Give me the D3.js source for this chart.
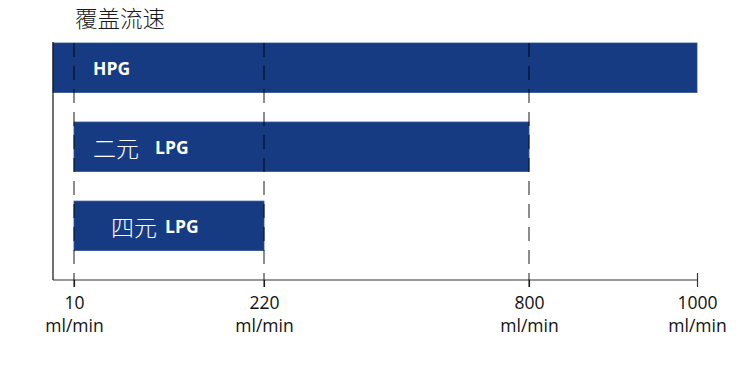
<!DOCTYPE html>
<html><head><meta charset="utf-8">
<script src="https://cdn.jsdelivr.net/npm/d3@7"></script>
<style>body{margin:0;background:#fff}svg{display:block}</style>
</head><body>
<svg id="c" width="756" height="368"></svg>
<script>
const title = "覆盖流速";
const categories = ["HPG", "二元 LPG", "四元 LPG"];
const labelCn = ["", "二元", "四元"];
const labelEn = ["HPG", "LPG", "LPG"];
const startValues = [0, 10, 10];
const endValues = [1000, 800, 220];
const tickValues = [10, 220, 800, 1000];
const tickUnit = "ml/min";

const svg = d3.select("#c");
const x = d3.scaleLinear().domain([0, 10, 220, 800, 1000]).range([53, 74, 264, 529, 697]);
const y = d3.scaleBand().domain(categories).range([43, 250.5]).paddingInner(0.375).paddingOuter(0);
const axisY = 280;
const blue = "#173b82";
const cjk = "'Noto Sans CJK SC', sans-serif";
const latin = "'Open Sans', sans-serif";

svg.append("text").attr("x", 75).attr("y", 26.5)
  .attr("font-family", cjk).attr("font-size", 22.5).attr("font-weight", 300)
  .attr("fill", "#1a1a1a").text(title);

// bars
svg.selectAll("rect.bar").data(categories).join("rect").attr("class", "bar")
  .attr("x", (d, i) => x(startValues[i]))
  .attr("y", d => y(d))
  .attr("width", (d, i) => x(endValues[i]) - x(startValues[i]))
  .attr("height", y.bandwidth())
  .attr("fill", blue).attr("stroke", "#2c4f95").attr("stroke-width", 0.8);

// labels
const cnX = [0, 93, 111];
const enX = [93, 155, 165];
categories.forEach((c, i) => {
  const mid = y(c) + y.bandwidth() / 2;
  if (labelCn[i]) {
    svg.append("text").attr("x", cnX[i]).attr("y", mid + 10.5).attr("fill", "#fff")
      .attr("font-family", cjk).attr("font-size", 23).attr("font-weight", 300).text(labelCn[i]);
  }
  svg.append("text").attr("x", enX[i]).attr("y", mid + 7).attr("fill", "#fff")
    .attr("font-family", latin).attr("font-size", 17.5).attr("font-weight", 700).text(labelEn[i]);
});

// left axis line
svg.append("line").attr("x1", 53).attr("x2", 53).attr("y1", 42).attr("y2", axisY)
  .attr("stroke", "#111").attr("stroke-width", 1.2);

// bottom axis
const ax = svg.append("g").attr("transform", `translate(0,${axisY})`)
  .call(d3.axisBottom(x).tickValues(tickValues).tickSizeInner(7).tickSizeOuter(0).tickFormat(""));
ax.select(".domain").attr("stroke", "#333").attr("stroke-width", 1.2).attr("d", `M53,0H${x(1000)}`);
ax.selectAll(".tick line").attr("stroke", "#333").attr("stroke-width", 1.2)
  .attr("y1", d => d === 1000 ? -7 : 0);
const tl = ax.selectAll(".tick").append("text").attr("fill", "#111")
  .attr("font-family", latin).attr("font-size", 17.5).attr("text-anchor", "middle");
tl.append("tspan").attr("x", 0).attr("y", 29).text(d => d);
tl.append("tspan").attr("x", 0).attr("y", 52).text(tickUnit);

// dashed guide lines
svg.selectAll("line.guide").data(tickValues.filter(v => v !== 1000)).join("line").attr("class", "guide")
  .attr("x1", d => x(d)).attr("x2", d => x(d)).attr("y1", 43).attr("y2", axisY + 7)
  .attr("stroke", "#000").attr("stroke-opacity", 0.6).attr("stroke-width", 1.5)
  .attr("stroke-dasharray", "14,9");
</script>
</body></html>
